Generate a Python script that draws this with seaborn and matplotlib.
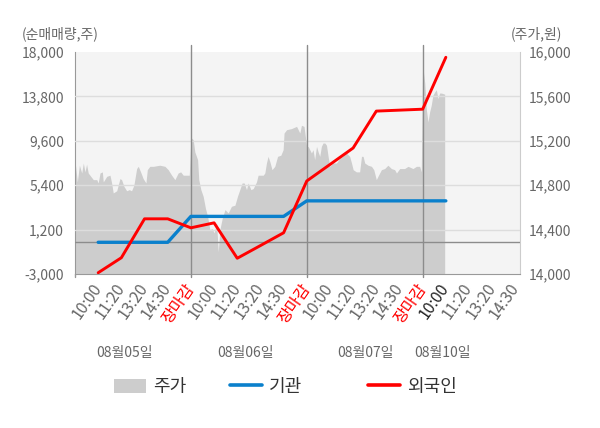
import numpy as np
import pandas as pd
import seaborn as sns
import matplotlib
matplotlib.use('Agg')
import matplotlib.pyplot as plt
import matplotlib.transforms as mtransforms
from matplotlib.patches import Patch
from matplotlib.lines import Line2D

sns.set_style('white')
plt.rcParams['font.family'] = ['Noto Sans CJK KR', 'DejaVu Sans']
plt.rcParams['axes.unicode_minus'] = False

# x축: 하루 = 5칸 (10:00, 11:20, 13:20, 14:30, 장마감)
tick_labels = ['10:00', '11:20', '13:20', '14:30', '장마감'] * 3 + ['10:00', '11:20', '13:20', '14:30']
day_labels = ['08월05일', '08월06일', '08월07일', '08월10일']
day_label_pos = [2.15, 7.35, 12.55, 15.84]

# 누적 순매매량(주), 08/05 10:00 ~ 08/10 10:00
flow_t = list(range(1, 17))
foreign = [-2880, -1460, 2220, 2220, 1370, 1840, -1510, -310, 900,
           5800, 7360, 8920, 12410, 12500, 12590, 17500]
inst = [0, 0, 0, 0, 2450, 2450, 2450, 2450, 2450,
        3920, 3920, 3920, 3920, 3920, 3920, 3920]

# 주가(원)
price_t = [
    # 08/05
    0.00, 0.10, 0.19, 0.29, 0.36, 0.43, 0.50, 0.57, 0.68, 0.79, 0.94, 1.00,
    1.08, 1.18, 1.22, 1.37, 1.51, 1.58, 1.65, 1.80, 1.94, 2.01, 2.11, 2.23,
    2.34, 2.44, 2.54, 2.66, 2.73, 2.83, 2.94, 3.06, 3.12, 3.23, 3.38, 3.66,
    3.88, 4.02, 4.17, 4.31, 4.45, 4.56, 4.67, 4.81, 4.93,
    # 08/06
    5.00, 5.10, 5.17, 5.29, 5.34, 5.43, 5.53, 5.63, 5.72, 5.82, 5.92, 6.00,
    6.11, 6.18, 6.25, 6.35, 6.47, 6.61, 6.75, 6.90, 7.01, 7.11, 7.21, 7.30,
    7.40, 7.47, 7.59, 7.69, 7.83, 7.90, 8.12, 8.19, 8.26, 8.33, 8.41, 8.50,
    8.62, 8.74, 8.88, 8.98, 9.02, 9.13, 9.34, 9.56, 9.70, 9.77, 9.88,
    # 08/07
    10.00, 10.06, 10.13, 10.20, 10.27, 10.34, 10.42, 10.49, 10.56, 10.63,
    10.70, 10.78, 10.85, 10.92, 10.99, 11.13, 11.28, 11.42, 11.56, 11.71,
    11.85, 11.93, 12.00, 12.14, 12.28, 12.36, 12.43, 12.50, 12.64, 12.79,
    12.89, 13.00, 13.07, 13.22, 13.36, 13.50, 13.65, 13.79, 13.87, 14.01,
    14.22, 14.37, 14.58, 14.73, 14.87, 14.94,
    # 08/10
    15.00, 15.04, 15.09, 15.16, 15.23, 15.30, 15.37, 15.44, 15.52, 15.59,
    15.66, 15.73, 15.81, 15.95,
]
price = [
    15020, 14830, 14980, 14910, 15000, 14920, 14990, 14910, 14880, 14850, 14850, 14820,
    14910, 14920, 14830, 14880, 14890, 14820, 14730, 14750, 14860, 14850, 14790, 14750,
    14760, 14750, 14800, 14950, 14970, 14920, 14860, 14820, 14940, 14970, 14970, 14980,
    14970, 14940, 14890, 14850, 14910, 14920, 14890, 14890, 14890,
    15230, 15210, 15100, 15030, 14850, 14760, 14700, 14590, 14520, 14400, 14410, 14370,
    14460, 14200, 14400, 14500, 14580, 14550, 14610, 14620, 14700, 14760, 14820, 14820,
    14760, 14820, 14760, 14770, 14830, 14890, 14890, 14910, 15000, 15060, 15010, 14940,
    14970, 15060, 15070, 15120, 15270, 15300, 15310, 15330, 15270, 15340, 15330,
    15140, 15150, 15120, 15090, 15120, 15030, 15150, 15100, 15060, 15150,
    15180, 15180, 15160, 15060, 14970, 15000, 15000, 15040, 15060, 15090,
    15060, 15000, 14940, 14920, 14920, 15060, 15060, 15000, 14980, 14970,
    14940, 14850, 14880, 14940, 14950, 14980, 14950, 14940, 14910, 14950,
    14950, 14970, 14950, 14970, 14970, 14920,
    15940, 15810, 15720, 15480, 15370, 15460, 15520, 15610, 15640, 15660,
    15580, 15630, 15630, 15620,
]

df_flow = pd.DataFrame({'t': flow_t, '외국인': foreign, '기관': inst})
df_price = pd.DataFrame({'t': price_t, '주가': price})

GRAY_TXT = '#666666'
RED = '#ff0000'
BLUE = '#0a80cc'

fig = plt.figure(figsize=(6, 4.28), dpi=100)
ax = fig.add_axes([0.125, 0.3598, 0.7417, 0.5187])
axp = ax.twinx()
ax.set_zorder(axp.get_zorder() + 1)
ax.patch.set_visible(False)
axp.patch.set_visible(True)
axp.set_facecolor('#f4f4f4')

# 주가 영역
axp.fill_between(df_price['t'], 14000, df_price['주가'], color='#cdcdcd', linewidth=0)
axp.set_ylim(14000, 16000)
axp.set_yticks(np.arange(14000, 16001, 400))
axp.set_yticklabels([f'{v:,}' for v in range(14000, 16001, 400)])

# 순매매량 라인
sns.lineplot(data=df_flow, x='t', y='기관', ax=ax, color=BLUE, linewidth=2.4, zorder=5)
sns.lineplot(data=df_flow, x='t', y='외국인', ax=ax, color=RED, linewidth=2.1, zorder=6)
ax.set_ylim(-3000, 18000)
yt = [-3000, 1200, 5400, 9600, 13800, 18000]
ax.set_yticks(yt)
ax.set_yticklabels([f'{v:,}' for v in yt])
ax.set_xlim(0, 19.2)
ax.set_xlabel('')
ax.set_ylabel('')

for v in [1200, 5400, 9600, 13800]:
    ax.axhline(v, color='#dddddd', lw=1, zorder=1)
ax.axhline(0, color='#8c8c8c', lw=1, zorder=2)
for d in [5, 10, 15]:
    ax.axvline(d, ymin=-0.015, ymax=1.032, color='#8c8c8c', lw=1, zorder=2, clip_on=False)
ax.axvline(0, ymin=-0.015, ymax=0, color='#999999', lw=1, clip_on=False)

ax.set_xticks(range(1, 20))
ax.set_xticklabels(tick_labels, rotation=55, ha='right', va='center',
                   rotation_mode='anchor', fontsize=11.5)
for i, lab in enumerate(ax.get_xticklabels()):
    if lab.get_text() == '장마감':
        lab.set_color(RED)
    elif i == 15:
        lab.set_color('#222222')
    else:
        lab.set_color(GRAY_TXT)
ax.tick_params(axis='x', length=0, pad=8)
ax.tick_params(axis='y', length=0, pad=8, labelsize=10, labelcolor=GRAY_TXT)
axp.tick_params(axis='y', length=0, pad=6, labelsize=10, labelcolor=GRAY_TXT)

for a in (ax, axp):
    for s in a.spines.values():
        s.set_visible(False)
axp.spines['bottom'].set_visible(True)
axp.spines['bottom'].set_color('#999999')
axp.spines['left'].set_visible(True)
axp.spines['left'].set_color('#999999')
axp.spines['right'].set_visible(True)
axp.spines['right'].set_color('#cccccc')

trans = mtransforms.blended_transform_factory(ax.transData, ax.transAxes)
for lab, pos in zip(day_labels, day_label_pos):
    ax.text(pos, -0.355, lab, transform=trans, ha='center', va='center',
            fontsize=10, color=GRAY_TXT)

fig.text(22 / 600, 1 - 34 / 428, '(순매매량,주)', ha='left', va='center', fontsize=10, color=GRAY_TXT)
fig.text(562 / 600, 1 - 34 / 428, '(주가,원)', ha='right', va='center', fontsize=10, color=GRAY_TXT)

items = [
    (Patch(facecolor='#cdcdcd', edgecolor='none'), '주가', 114),
    (Line2D([], [], color=BLUE, lw=2.6), '기관', 230),
    (Line2D([], [], color=RED, lw=2.6), '외국인', 368),
]
for h, t, x in items:
    leg = fig.legend([h], [t], loc='center left', bbox_to_anchor=(x / 600, 1 - 387 / 428),
                     frameon=False, fontsize=13, handlelength=1.75, handleheight=0.8,
                     handletextpad=0.4, borderpad=0, borderaxespad=0)
    for txt in leg.get_texts():
        txt.set_color('#333333')

fig.savefig('out.png', dpi=100)
